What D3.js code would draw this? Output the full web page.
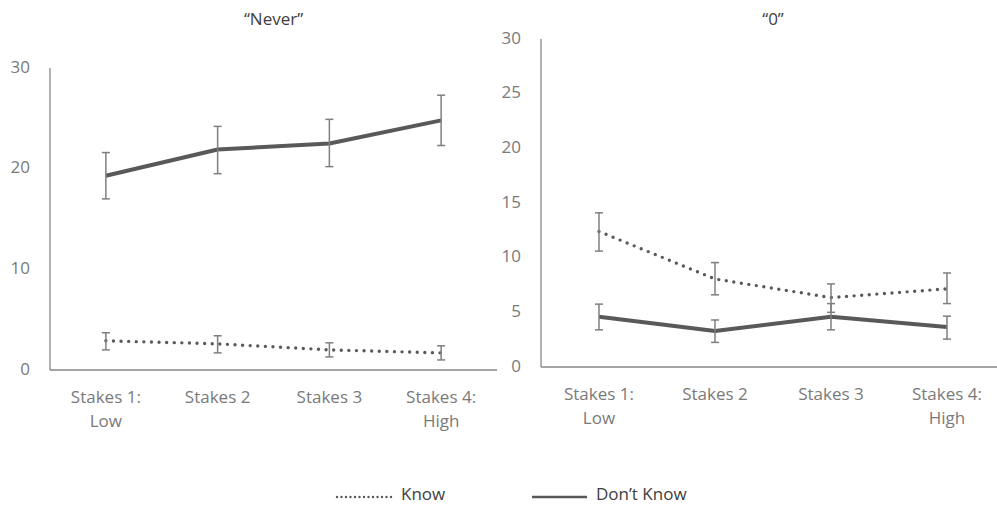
<!DOCTYPE html>
<html>
<head>
<meta charset="utf-8">
<script src="https://cdn.jsdelivr.net/npm/d3@7"></script>
<style>
  html, body { margin: 0; padding: 0; background: #fff; }
  svg { display: block; font-family: "Open Sans", Lato, sans-serif; }
</style>
</head>
<body>
<svg id="chart" width="997" height="507"></svg>
<script>
// Stakes conditions shared by both panels
const categories = [["Stakes 1:", "Low"], ["Stakes 2"], ["Stakes 3"], ["Stakes 4:", "High"]];

// Panel "Never": means and error-bar bounds
const neverKnow = [2.9, 2.6, 2.0, 1.7];
const neverKnowLo = [2.0, 1.7, 1.3, 1.0];
const neverKnowHi = [3.7, 3.4, 2.7, 2.4];
const neverDontKnow = [19.3, 21.9, 22.5, 24.8];
const neverDontKnowLo = [17.0, 19.5, 20.2, 22.3];
const neverDontKnowHi = [21.6, 24.2, 24.9, 27.3];
const neverTicks = [0, 10, 20, 30];

// Panel "0": means and error-bar bounds
const zeroKnow = [12.4, 8.05, 6.35, 7.15];
const zeroKnowLo = [10.6, 6.6, 5.0, 5.8];
const zeroKnowHi = [14.1, 9.55, 7.6, 8.6];
const zeroDontKnow = [4.6, 3.3, 4.6, 3.65];
const zeroDontKnowLo = [3.4, 2.25, 3.4, 2.55];
const zeroDontKnowHi = [5.75, 4.3, 5.8, 4.65];
const zeroTicks = [0, 5, 10, 15, 20, 25, 30];

const lineColor = "#595959";
const axisColor = "#878787";
const errColor = "#7f7f7f";
const labelColor = "#7a7a7a";
const fontSize = 17;

const svg = d3.select("#chart");

function panel(opts) {
  const g = svg.append("g");
  const x = d3.scaleBand().domain(d3.range(categories.length))
    .range([opts.left, opts.right]);
  const y = d3.scaleLinear().domain([0, 30]).range([opts.bottom, opts.top]);

  // title
  g.append("text")
    .attr("x", (opts.left + opts.right) / 2)
    .attr("y", opts.titleY)
    .attr("text-anchor", "middle")
    .attr("dominant-baseline", "middle")
    .attr("fill", "#404040")
    .attr("font-size", fontSize)
    .text(opts.title);

  // y axis line and tick labels
  g.append("line")
    .attr("x1", opts.left).attr("x2", opts.left)
    .attr("y1", y(30)).attr("y2", y(0))
    .attr("stroke", axisColor).attr("stroke-width", 1.3);
  g.selectAll(".ytick").data(opts.ticks).enter().append("text")
    .attr("x", opts.left - 20)
    .attr("y", d => y(d))
    .attr("text-anchor", "end")
    .attr("dominant-baseline", "middle")
    .attr("fill", labelColor)
    .attr("font-size", fontSize)
    .text(d => d);

  // x axis line and category labels
  g.append("line")
    .attr("x1", opts.left).attr("x2", opts.right)
    .attr("y1", y(0)).attr("y2", y(0))
    .attr("stroke", axisColor).attr("stroke-width", 1.3);
  const cat = g.selectAll(".xlab").data(categories).enter().append("text")
    .attr("text-anchor", "middle")
    .attr("fill", labelColor)
    .attr("font-size", fontSize);
  cat.each(function(lines, i) {
    d3.select(this).selectAll("tspan").data(lines).enter().append("tspan")
      .attr("x", x(i) + x.bandwidth() / 2)
      .attr("y", (d, j) => y(0) + 28 + j * 24)
      .attr("dominant-baseline", "middle")
      .text(d => d);
  });

  const cx = i => x(i) + x.bandwidth() / 2;
  const line = d3.line().x((d, i) => cx(i)).y(d => y(d));

  // error bars
  function errBars(lo, hi) {
    const eg = g.append("g").attr("stroke", errColor).attr("stroke-width", 1.5).attr("fill", "none");
    lo.forEach((l, i) => {
      const h = hi[i];
      eg.append("line").attr("x1", cx(i)).attr("x2", cx(i)).attr("y1", y(l)).attr("y2", y(h));
      eg.append("line").attr("x1", cx(i) - 4).attr("x2", cx(i) + 4).attr("y1", y(l)).attr("y2", y(l));
      eg.append("line").attr("x1", cx(i) - 4).attr("x2", cx(i) + 4).attr("y1", y(h)).attr("y2", y(h));
    });
  }

  // Don't Know: solid line
  g.append("path").datum(opts.dk)
    .attr("d", line)
    .attr("fill", "none")
    .attr("stroke", lineColor)
    .attr("stroke-width", 4)
    .attr("stroke-linejoin", "round");
  errBars(opts.dkLo, opts.dkHi);

  // Know: round-dot line
  g.append("path").datum(opts.k)
    .attr("d", line)
    .attr("fill", "none")
    .attr("stroke", lineColor)
    .attr("stroke-width", 3.4)
    .attr("stroke-linecap", "round")
    .attr("stroke-dasharray", "0 7.6");
  errBars(opts.kLo, opts.kHi);
}

panel({
  title: "\u201CNever\u201D", titleY: 20,
  left: 50, right: 497, top: 68, bottom: 370,
  ticks: neverTicks,
  k: neverKnow, kLo: neverKnowLo, kHi: neverKnowHi,
  dk: neverDontKnow, dkLo: neverDontKnowLo, dkHi: neverDontKnowHi
});

panel({
  title: "\u201C0\u201D", titleY: 20,
  left: 541, right: 1005, top: 39, bottom: 367,
  ticks: zeroTicks,
  k: zeroKnow, kLo: zeroKnowLo, kHi: zeroKnowHi,
  dk: zeroDontKnow, dkLo: zeroDontKnowLo, dkHi: zeroDontKnowHi
});

// legend
const legend = [
  { name: "Know", dash: "0 4.5", width: 2.4, x: 337 },
  { name: "Don\u2019t Know", dash: null, width: 2.5, x: 532 }
];
const lg = svg.append("g");
legend.forEach(d => {
  lg.append("line")
    .attr("x1", d.x).attr("x2", d.x + 55)
    .attr("y1", 497).attr("y2", 497)
    .attr("stroke", lineColor)
    .attr("stroke-width", d.width)
    .attr("stroke-linecap", d.dash ? "round" : "butt")
    .attr("stroke-dasharray", d.dash);
  lg.append("text")
    .attr("x", d.x + 64)
    .attr("y", 495)
    .attr("dominant-baseline", "middle")
    .attr("fill", "#404040")
    .attr("font-size", fontSize)
    .text(d.name);
});
</script>
</body>
</html>
